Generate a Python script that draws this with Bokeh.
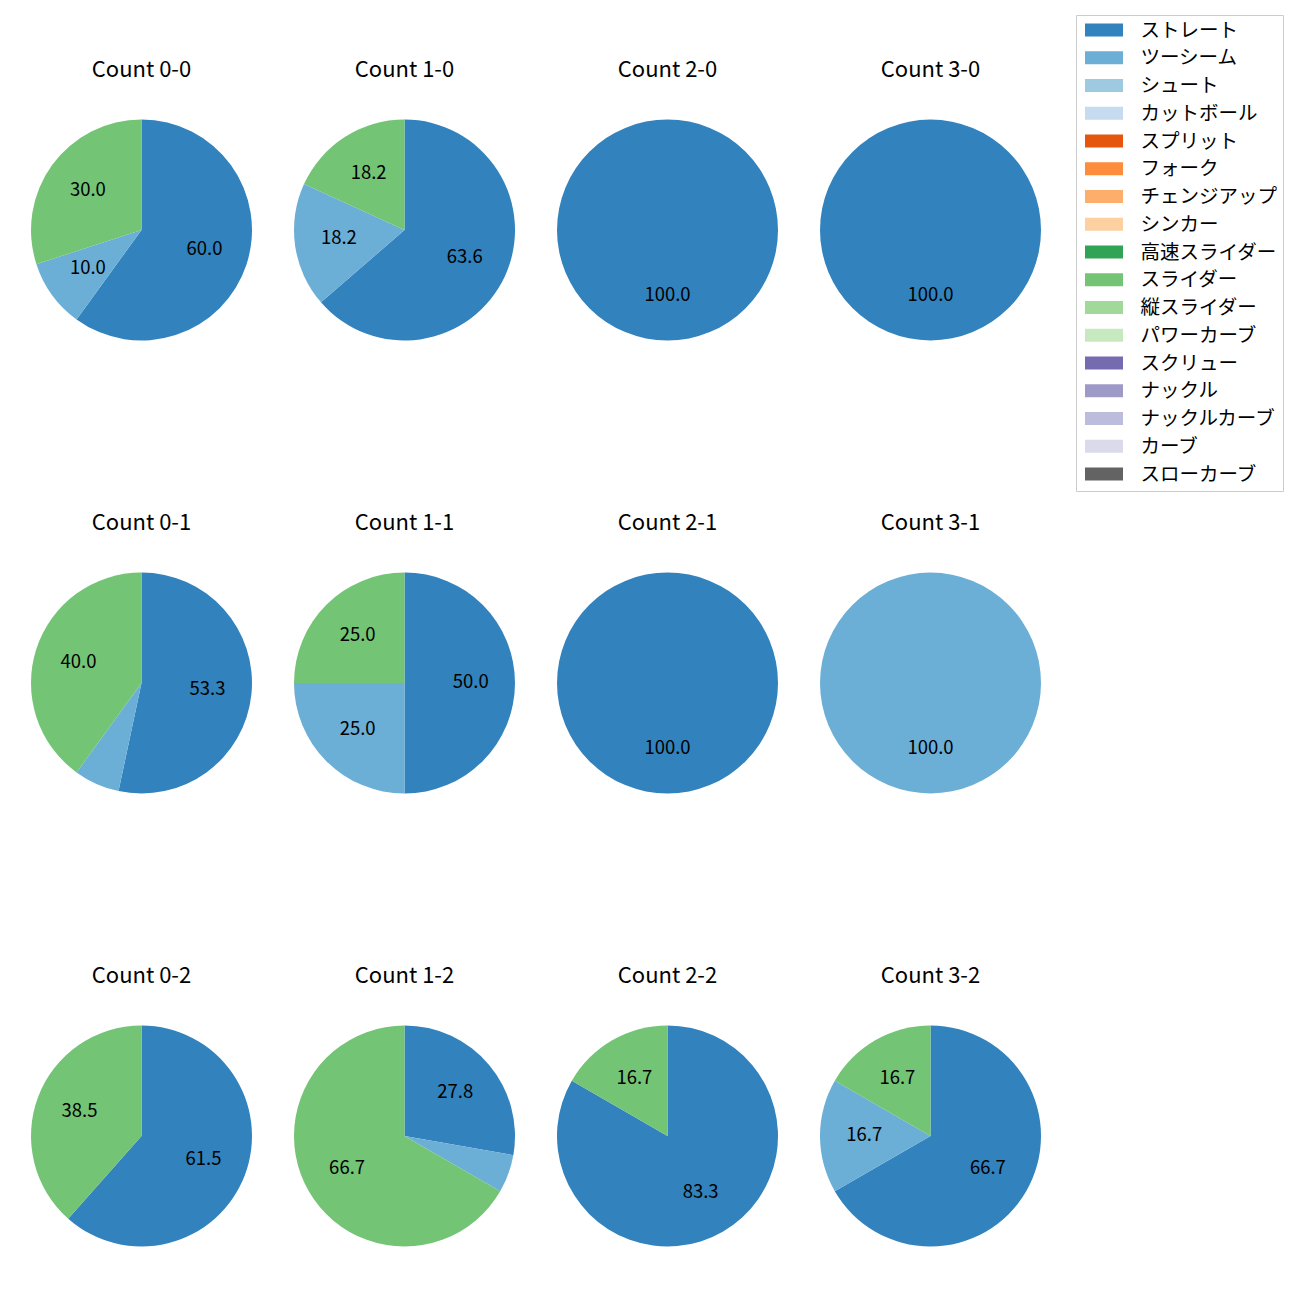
import math
from bokeh.plotting import figure
from bokeh.models import Range1d, ColumnDataSource
from bokeh.core.properties import value
from bokeh.embed import file_html
from bokeh.resources import INLINE

# ---- data ----
pitch_types = ["ストレート", "ツーシーム", "シュート", "カットボール", "スプリット", "フォーク",
               "チェンジアップ", "シンカー", "高速スライダー", "スライダー", "縦スライダー",
               "パワーカーブ", "スクリュー", "ナックル", "ナックルカーブ", "カーブ", "スローカーブ"]
colors = ["#3182bd", "#6baed6", "#9ecae1", "#c6dbef", "#e6550d", "#fd8d3c", "#fdae6b", "#fdd0a2",
          "#31a354", "#74c476", "#a1d99b", "#c7e9c0", "#756bb1", "#9e9ac8", "#bcbddc", "#dadaeb",
          "#636363"]
counts = ["Count 0-0", "Count 1-0", "Count 2-0", "Count 3-0",
          "Count 0-1", "Count 1-1", "Count 2-1", "Count 3-1",
          "Count 0-2", "Count 1-2", "Count 2-2", "Count 3-2"]
# pitch counts per ball-strike count (estimated from the percentages)
straight_n = [6, 7, 1, 1, 8, 2, 1, 0, 8, 5, 5, 4]
twoseam_n = [1, 2, 0, 0, 1, 1, 0, 1, 0, 1, 0, 1]
slider_n = [3, 2, 0, 0, 6, 1, 0, 0, 5, 12, 1, 1]

series = {t: [0] * len(counts) for t in pitch_types}
series["ストレート"] = straight_n
series["ツーシーム"] = twoseam_n
series["スライダー"] = slider_n

# ---- layout (screen px) ----
W = H = 1284
col_x = [141, 404, 667, 930]
row_y = [229.5, 682.5, 1135.5]
R = 110.5
FONT = "Noto Sans CJK JP"


def sy(y):
    return H - y


p = figure(width=W, height=H, output_backend="svg", toolbar_location=None,
           x_range=Range1d(0, W), y_range=Range1d(0, H),
           min_border=0, outline_line_color=None)
p.axis.visible = False
p.grid.visible = False

# pie geometry
starts = {t: [] for t in pitch_types}
label_x, label_y, label_t = [], [], []
for i, c in enumerate(counts):
    cx = col_x[i % 4]
    cy = sy(row_y[i // 4])
    total = sum(series[t][i] for t in pitch_types)
    cum = 0.0
    for t in pitch_types:
        v = series[t][i]
        if v <= 0:
            continue
        f0 = cum / total
        f1 = (cum + v) / total
        cum += v
        a_start = math.pi / 2 - 2 * math.pi * f1
        a_end = math.pi / 2 - 2 * math.pi * f0
        starts[t].append((cx, cy, a_start, a_end))
        pct = 100 * (f1 - f0)
        if pct >= 8:
            mid = (a_start + a_end) / 2
            label_x.append(cx + 0.6 * R * math.cos(mid))
            label_y.append(cy + 0.6 * R * math.sin(mid) + 2)
            label_t.append(f"{pct:.1f}")

for t, col in zip(pitch_types, colors):
    rows = starts[t]
    full = [r for r in rows if abs((r[3] - r[2]) - 2 * math.pi) < 1e-9]
    part = [r for r in rows if r not in full]
    if part:
        src = ColumnDataSource(dict(x=[r[0] for r in part], y=[r[1] for r in part],
                                    s=[r[2] for r in part], e=[r[3] for r in part]))
        p.wedge(x="x", y="y", radius=R, start_angle="s", end_angle="e", source=src,
                fill_color=col, line_color=None)
    if full:
        p.scatter(x=[r[0] for r in full], y=[r[1] for r in full], size=2 * R,
                  marker="circle", fill_color=col, line_color=None)

p.text(x=label_x, y=label_y, text=label_t, text_align="center", text_baseline="middle",
       text_font=value(FONT), text_font_size="18.5px", text_color="#000000")

# titles
tx = [col_x[i % 4] for i in range(len(counts))]
ty = [sy(row_y[i // 4] - 160) + 3 for i in range(len(counts))]
p.text(x=tx, y=ty, text=counts, text_align="center", text_baseline="middle",
       text_font=value(FONT), text_font_size="22px", text_color="#000000")

# legend
lx0, ly0, lx1, ly1 = 1076, 15, 1283, 491
p.quad(left=lx0, right=lx1, top=sy(ly0), bottom=sy(ly1), fill_color="white", fill_alpha=0.8,
       line_color="#cccccc", line_width=1)
pitch = 27.75
gy = [sy(29.5 + k * pitch) for k in range(len(pitch_types))]
p.rect(x=[1103.5] * len(pitch_types), y=gy, width=38, height=13, fill_color=colors,
       line_color=None)
p.text(x=[1140] * len(pitch_types), y=[g + 2 for g in gy], text=pitch_types, text_align="left",
       text_baseline="middle", text_font=value(FONT), text_font_size="19.5px",
       text_color="#000000")

open("out.html", "w").write(file_html(p, INLINE))
